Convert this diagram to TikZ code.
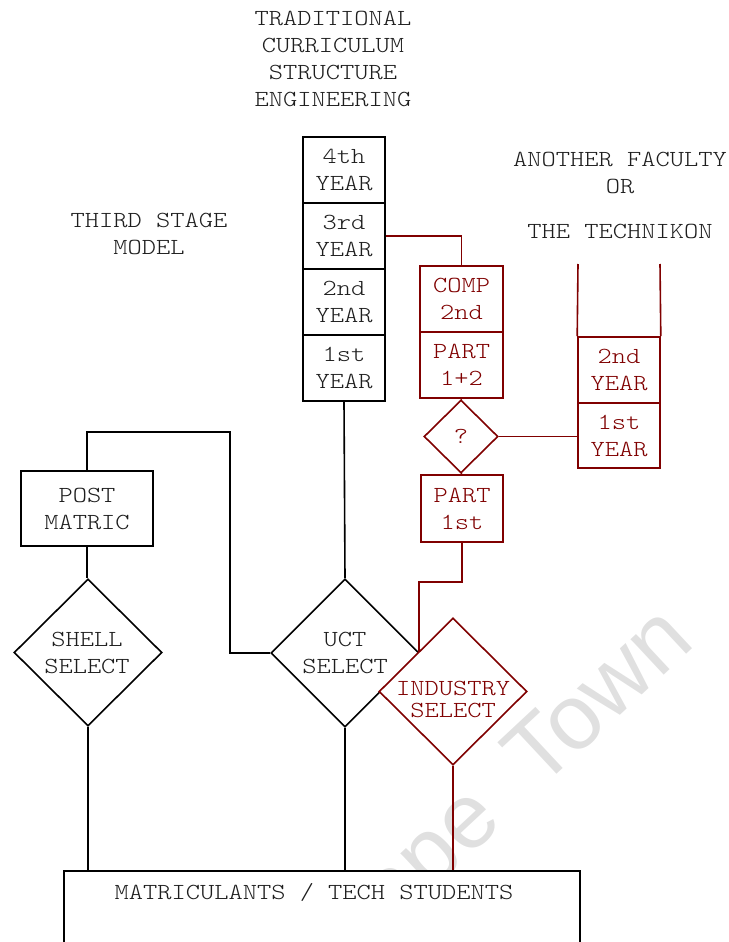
\documentclass[tikz,border=0pt]{standalone}
\usepackage{fontspec}
\usetikzlibrary{shapes.geometric}
\newfontfamily\monofam{lmmonolt10-regular.otf}[FakeStretch=1.18]
\newfontfamily\markfam{Liberation Sans}
\definecolor{dred}{RGB}{128,0,0}
\definecolor{ink}{RGB}{30,30,30}
\definecolor{wmark}{RGB}{224,224,224}
\tikzset{
  txt/.style={font={\monofam\fontsize{23}{27}\selectfont}, align=center, inner sep=0pt, text=ink},
  rtxt/.style={txt, text=dred},
  yrbox/.style={rectangle, draw=black, fill=white, line width=1.6pt, minimum width=82pt,
                minimum height=66pt, inner sep=0pt, txt},
  rbox/.style={yrbox, draw=dred, text=dred},
  dia/.style={diamond, draw=black, fill=white, line width=1.6pt, inner sep=0pt,
              minimum width=148pt, minimum height=148pt},
  rdia/.style={dia, draw=dred},
  wire/.style={draw=black, line width=1.6pt},
  rwire/.style={draw=dred, line width=1.6pt},
  wmtext/.style={font={\markfam\fontsize{92}{92}\selectfont}, text=wmark, rotate=43,
                 anchor=base west, inner sep=0pt}
}
\begin{document}
\begin{tikzpicture}[x=1pt, y=-1pt]
\useasboundingbox (0,0) rectangle (728,942);

% faint diagonal watermark, mostly covered by the boxes
\node[wmtext] (wmcape) at (343.5,974) {Cape};
\node[wmtext] (wmtown) at (539.5,791) {Town};

% headings
\node[txt] (head) at (333,59) {TRADITIONAL\\CURRICULUM\\STRUCTURE\\ENGINEERING};
\node[txt] (tsm) at (149,234) {THIRD STAGE\\MODEL};
\node[txt] (fac) at (620,173) {ANOTHER FACULTY\\OR};
\node[txt] (tech) at (620,231) {THE TECHNIKON};

% traditional four-year stack
\node[yrbox] (y4) at (344,170) {4th\\YEAR};
\node[yrbox] (y3) at (344,236) {3rd\\YEAR};
\node[yrbox] (y2) at (344,302) {2nd\\YEAR};
\node[yrbox] (y1) at (344,368) {1st\\YEAR};

% compressed route
\node[rbox, minimum width=83pt] (comp) at (461.5,299) {COMP\\2nd};
\node[rbox, minimum width=83pt] (p12) at (461.5,365) {PART\\1+2};
\node[rdia, minimum width=74pt, minimum height=73pt] (q) at (461,436.5) {};
\node[rtxt] at (q) {?};
\node[rbox, minimum width=82pt, minimum height=67pt] (p1) at (462,508.5) {PART\\1st};

% technikon / other faculty stack (open at the top)
\node[rbox] (t2) at (619,370) {2nd\\YEAR};
\node[rbox, minimum height=65pt] (t1) at (619,435.5) {1st\\YEAR};
\coordinate (tl) at (578,264);
\coordinate (tr) at (660,264);
\draw[rwire] (tl) -- (t2.north west);
\draw[rwire] (tr) -- (t2.north east);

% post-matric route
\node[yrbox, minimum width=132pt, minimum height=75pt] (post) at (87,508.5) {POST\\MATRIC};
\node[dia, minimum width=148pt, minimum height=147pt] (shell) at (88,652.5) {};
\node[txt] at (87,653) {SHELL\\SELECT};

% selection diamonds
\node[dia] (uct) at (345,653) {};
\node[txt] at (345,653) {UCT\\SELECT};
\node[rdia, minimum width=148pt, minimum height=147pt] (ind) at (453,691.5) {};
\node[rtxt, font={\monofam\fontsize{23}{22}\selectfont}] at (453,699) {INDUSTRY\\SELECT};

% intake box
\node[rectangle, draw=black, fill=white, line width=1.6pt, minimum width=516pt,
      minimum height=100pt, anchor=north west, inner sep=0pt] (base) at (63,870) {};
\node[txt] (basetxt) at (314,892) {MATRICULANTS / TECH STUDENTS};

% connectors
\coordinate (j1) at (230,432);
\coordinate (indin) at (419,651.5);
\draw[wire] (post.north) |- (j1) |- (uct.west);
\draw[wire] (post.south) -- (post.south |- shell.north);
\draw[wire] (shell.south) -- (shell.south |- base.north);
\draw[wire] (y1.south) -- (uct.north);
\draw[wire] (uct.south) -- (uct.south |- base.north);
\draw[rwire] (y3.east) -| (comp.north);
\draw[rwire] (p12.south) -- (q.north);
\draw[rwire] (q.south) -- (p1.north);
\draw[rwire] (q.east) -- (q.east -| t1.west);
\draw[rwire] (p1.south) -- ++(0,39) -| (indin);
\draw[rwire] (ind.south) -- (ind.south |- base.north);
\end{tikzpicture}
\end{document}
